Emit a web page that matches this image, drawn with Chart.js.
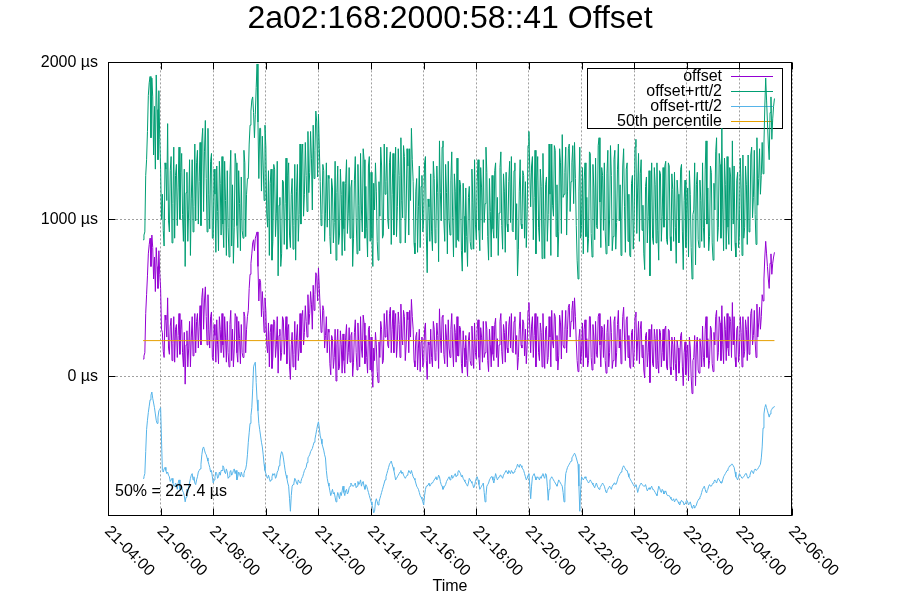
<!DOCTYPE html>
<html>
<head>
<meta charset="utf-8">
<script src="https://cdn.jsdelivr.net/npm/chart.js@4.4.0/dist/chart.umd.min.js"></script>
<style>
  html, body { margin: 0; padding: 0; background: #fff; }
</style>
</head>
<body>
<canvas id="myChart" width="900" height="600"></canvas>
<script>
const xTickLabels = [
  "21-04:00", "21-06:00", "21-08:00", "21-10:00", "21-12:00", "21-14:00", "21-16:00",
  "21-18:00", "21-20:00", "21-22:00", "22-00:00", "22-02:00", "22-04:00", "22-06:00",
];
const yTickValues = [0, 1000, 2000];

const startHour = 4 / 3; // first sample at 21-05:20 (hours after 21-04:00)
const stepHours = 1 / 30; // one sample every 2 minutes

// offset in µs, one row per hour
const offset = [
  110, 130, 150, 400, 520, 640, 780, 840, 880, 700, 900, 820, 620, 760, 540, 820, 700, 560, 800, 650, 560, 300, 280, 160, 120, 390, 360, 250, 500, 180,
  140, 320, 370, 100, 210, 380, 90, 300, 330, 120, 260, 400, 140, 300, 360, 150, 60, 280, -50, 200, 290, 60, 180, 350, 60, 250, 380, 130, 220, 400,
  150, 350, 400, 180, 320, 450, 200, 500, 560, 300, 480, 570, 380, 200, 520, 300, 180, 380, 410, 120, 100, 330, 260, 90, 360, 200, 80, 380, 300, 150,
  400, 200, 120, 380, 250, 90, 350, 150, 60, 330, 420, 100, 300, 60, 180, 400, 380, 150, 90, 350, 240, 80, 330, 150, 120, 410, 380, 150, 300, 380,
  420, 560, 650, 720, 780, 850, 870, 800, 880, 900, 920, 700, 480, 620, 600, 380, 540, 420, 280, 500, 420, 200, 150, 340, 60, 280, 330, 50, 120, 360,
  350, 120, 200, 380, 20, 260, 300, 100, 150, 380, 360, 140, 250, 380, 80, 300, 330, 60, -20, 200, 280, 60, 140, 350, 40, 250, 330, 100, 180, 400,
  150, 380, 420, 200, 280, 450, 350, 250, 520, 330, 400, 540, 460, 300, 580, 420, 520, 660, 640, 480, 690, 560, 430, 280, 300, 450, 420, 180, 260, 380,
  150, 300, 280, 80, 10, 260, 240, 50, 120, 300, -30, 200, 300, 40, 60, 290, 200, 20, 270, 100, 20, 250, 330, 80, 150, 310, 90, 260, 280, 0,
  90, 280, 360, 150, 40, 340, 200, 60, 380, 180, 120, 390, 340, 80, 260, 120, 20, 300, 320, 40, 250, 30, -70, 180, 100, 280, 200, 30, -40, 220,
  120, 350, 300, 80, 100, 400, 250, 300, 420, 200, 180, 400, 440, 150, 300, 420, 150, 330, 400, 120, 220, 410, 330, 120, 460, 250, 200, 420, 380, 100,
  200, 410, 360, 150, 420, 250, 490, 380, 300, 100, 60, 250, 280, 40, 180, 300, 30, 220, 250, 60, 90, 300, 340, 100, -20, 220, 200, 80, 300, 120,
  60, 350, 300, 100, 150, 340, 260, 50, 430, 250, 150, 380, 390, 140, 80, 330, 250, 60, 360, 180, 120, 300, 400, 180, 60, 330, 280, 90, 380, 130,
  130, 320, 300, 80, 20, 290, 180, 60, 260, 100, 0, 230, 280, 100, 70, 320, 210, 50, 340, 150, 110, 300, 360, 120, 40, 310, 250, 90, 350, 120,
  150, 350, 300, 100, 30, 300, 200, 60, 320, 140, 100, 330, 370, 120, 240, 60, 200, 350, 400, 160, 80, 330, 280, 90, 350, 180, 150, 320, 380, 180,
  400, 160, 150, 350, 380, 140, 260, 40, 120, 300, 410, 200, 180, 360, 340, 130, 300, 80, 200, 420, 470, 300, 150, 320, 380, 120, 260, 400, 60, 300,
  380, 150, 100, 340, 280, 60, 400, 180, 50, 300, 320, 80, 120, 380, 250, 60, 420, 220, 180, 400, 380, 100, 260, 40, 130, 390, 340, 110, 420, 200,
  180, 300, 420, 150, 300, 440, 460, 250, 350, 420, 480, 300, 500, 380, 220, 100, 30, 240, 300, 80, 160, 340, 60, 300, 360, 120, 240, 60, 100, 380,
  380, 120, 40, 330, 250, 80, 350, 140, 120, 380, 400, 200, 60, 320, 300, 120, 330, 100, 20, 280, 360, 60, 150, 380, 280, 50, 100, 350, 380, 60,
  150, 330, 420, 180, 300, 80, 200, 380, 440, 250, 100, 360, 380, 120, 260, 60, 50, 280, 300, 60, 150, 380, 410, 100, 230, 350, 80, 300, 350, 120,
  200, 40, -10, 260, 280, 60, 150, 300, -40, 200, 330, 80, 60, 300, 240, 50, 300, 100, 20, 300, 280, 60, 150, 300, 100, 300, 320, 60, 40, 300,
  290, 60, 10, 250, 200, 40, 250, 80, -30, 230, 180, 20, 100, 260, 280, 60, -60, 150, 220, 10, 120, 200, -30, 250, 180, 0, -110, 100, 120, 260,
  -60, 200, 250, 40, 20, 240, 180, 60, 320, 120, 60, 300, 380, 120, 240, 50, 100, 320, 300, 80, 30, 280, 200, 380, 420, 100, 150, 380, 340, 100,
  450, 200, 80, 380, 300, 100, 400, 180, 130, 380, 350, 120, 470, 200, 380, 120, 60, 300, 320, 90, 140, 380, 280, 60, 380, 120, 160, 360, 300, 100,
  380, 140, 160, 400, 430, 200, 260, 420, 220, 120, 460, 250, 340, 440, 300, 380, 520, 480, 620, 760, 860, 780, 700, 620, 560, 720, 780, 650, 720, 760, 790,
];

// offset-rtt/2 in µs, one row per hour
const offsetLow = [
  -650, -640, -620, -480, -340, -280, -230, -190, -150, -120, -100, -140, -170, -200, -240, -280, -300, -260, -220, -210, -200, -400, -600, -610, -590, -580, -600, -620, -610, -630,
  -640, -670, -660, -650, -680, -700, -700, -680, -690, -720, -680, -660, -720, -700, -700, -730, -740, -760, -800, -770, -720, -740, -700, -680, -650, -630, -620, -660, -640, -680,
  -690, -660, -640, -610, -600, -590, -560, -500, -460, -450, -470, -490, -500, -520, -540, -560, -580, -610, -600, -640, -680, -660, -640, -610, -620, -650, -640, -610, -630, -600,
  -600, -570, -580, -610, -620, -590, -610, -650, -640, -610, -600, -630, -620, -600, -590, -620, -600, -660, -640, -610, -620, -640, -610, -630, -640, -620, -600, -590, -560, -500,
  -420, -360, -300, -250, -200, -80, 60, 80, 90, -40, -150, -220, -300, -340, -380, -420, -450, -500, -560, -600, -620, -640, -650, -630, -650, -670, -660, -640, -620, -630,
  -620, -650, -640, -610, -600, -570, -540, -500, -480, -490, -520, -560, -600, -630, -650, -680, -700, -780, -860, -760, -700, -690, -680, -650, -660, -680, -690, -660, -670, -680,
  -670, -650, -640, -620, -600, -590, -580, -550, -520, -510, -500, -480, -470, -460, -440, -420, -400, -370, -340, -310, -290, -330, -380, -400, -430, -450, -470, -500, -520, -600,
  -650, -680, -700, -730, -760, -740, -720, -750, -740, -770, -800, -770, -740, -760, -780, -740, -760, -730, -700, -740, -760, -730, -720, -750, -740, -710, -700, -680, -690, -700,
  -700, -690, -680, -710, -700, -670, -690, -680, -660, -700, -680, -670, -700, -720, -690, -700, -720, -740, -760, -780, -800, -820, -840, -870, -860, -800, -780, -800, -820, -800,
  -780, -760, -740, -720, -700, -680, -660, -640, -620, -600, -580, -560, -550, -540, -560, -580, -600, -630, -660, -650, -640, -630, -620, -610, -600, -620, -610, -630, -640, -650,
  -640, -630, -620, -600, -610, -620, -600, -620, -640, -650, -660, -680, -700, -710, -720, -740, -760, -770, -780, -800, -820, -760, -720, -700, -700, -690, -680, -700, -690, -680,
  -680, -670, -660, -650, -640, -660, -650, -630, -640, -670, -690, -700, -720, -710, -700, -690, -670, -660, -650, -640, -660, -650, -630, -650, -640, -630, -620, -640, -630, -610,
  -600, -610, -620, -640, -630, -650, -660, -670, -680, -690, -700, -680, -650, -660, -670, -680, -690, -710, -700, -670, -650, -640, -660, -690, -720, -710, -700, -690, -680, -740,
  -800, -760, -700, -690, -680, -660, -650, -640, -640, -660, -680, -650, -620, -640, -660, -650, -640, -630, -630, -640, -650, -630, -620, -610, -600, -610, -620, -600, -610, -620,
  -600, -610, -620, -610, -600, -590, -580, -560, -570, -580, -560, -570, -580, -590, -600, -620, -640, -660, -650, -630, -620, -700, -780, -700, -640, -630, -620, -640, -660, -650,
  -640, -650, -660, -640, -650, -630, -620, -640, -650, -620, -630, -700, -790, -720, -660, -650, -640, -650, -660, -670, -680, -690, -700, -680, -660, -670, -680, -690, -700, -740,
  -800, -700, -620, -600, -580, -570, -560, -550, -540, -520, -510, -500, -490, -500, -520, -540, -560, -700, -860, -720, -640, -650, -660, -650, -640, -650, -660, -670, -680, -670,
  -660, -670, -680, -690, -700, -710, -690, -680, -700, -710, -720, -710, -700, -690, -680, -690, -700, -720, -740, -730, -720, -710, -700, -710, -720, -700, -690, -680, -680, -690,
  -680, -660, -640, -630, -620, -610, -600, -580, -570, -580, -590, -600, -600, -620, -640, -650, -660, -670, -680, -690, -700, -700, -690, -710, -740, -720, -700, -690, -680, -690,
  -690, -700, -700, -690, -710, -730, -720, -710, -720, -710, -700, -720, -720, -730, -740, -750, -760, -730, -700, -710, -730, -740, -720, -730, -750, -740, -730, -750, -760, -760,
  -760, -770, -780, -790, -790, -780, -800, -790, -780, -790, -800, -810, -820, -800, -790, -800, -800, -820, -810, -800, -790, -800, -820, -810, -800, -820, -840, -830, -820, -840,
  -830, -820, -800, -790, -780, -770, -760, -740, -720, -710, -700, -720, -740, -730, -720, -700, -690, -700, -700, -690, -680, -670, -660, -670, -680, -660, -650, -660, -670, -680,
  -680, -660, -640, -630, -620, -610, -600, -590, -580, -570, -570, -560, -560, -570, -580, -610, -640, -650, -660, -640, -620, -630, -640, -650, -650, -640, -630, -620, -620, -640,
  -650, -640, -630, -610, -600, -610, -620, -600, -590, -600, -600, -590, -580, -570, -560, -520, -450, -330, -240, -200, -180, -200, -220, -240, -260, -240, -220, -210, -200, -200, -190,
];

const medianOffset = 227.4;

const hours = offset.map((_, i) => startHour + i * stepHours);
const offsetHigh = offset.map((v, i) => v + (v - offsetLow[i])); // offset + rtt/2
const toPoints = (arr) => arr.map((v, i) => ({ x: hours[i], y: v }));

const FONT = "'Liberation Sans', Arial, sans-serif";

const gnuplotLook = {
  id: "gnuplotLook",
  beforeDatasetsDraw(chart) {
    const ctx = chart.ctx;
    ctx.save();
    ctx.strokeStyle = "#000";
    ctx.lineWidth = 1;
    ctx.strokeRect(587.5, 68.5, 195, 60);
    ctx.font = "16px " + FONT;
    ctx.textAlign = "right";
    ctx.textBaseline = "middle";
    chart.data.datasets.forEach((ds, i) => {
      const y = 76.5 + i * 15;
      ctx.fillStyle = "#000";
      ctx.fillText(ds.label, 722, y);
      ctx.strokeStyle = ds.borderColor;
      ctx.beginPath();
      ctx.moveTo(731, y);
      ctx.lineTo(773, y);
      ctx.stroke();
    });
    ctx.restore();
  },
  afterDraw(chart) {
    const { ctx, chartArea: a, scales } = chart;
    const left = Math.round(a.left) + 0.5;
    const right = Math.round(a.right) - 0.5;
    const top = Math.round(a.top) + 0.5;
    const bottom = Math.round(a.bottom) - 0.5;
    ctx.save();
    ctx.strokeStyle = "#000";
    ctx.lineWidth = 1;
    ctx.strokeRect(left, top, right - left, bottom - top);

    // inward tics, mirrored
    ctx.beginPath();
    scales.y.ticks.forEach((t) => {
      const y = Math.round(scales.y.getPixelForValue(t.value)) + 0.5;
      ctx.moveTo(left, y);
      ctx.lineTo(left + 7, y);
      ctx.moveTo(right, y);
      ctx.lineTo(right - 7, y);
    });
    scales.x.ticks.forEach((t) => {
      const x = Math.round(scales.x.getPixelForValue(t.value)) + 0.5;
      ctx.moveTo(x, bottom);
      ctx.lineTo(x, bottom - 7);
      ctx.moveTo(x, top);
      ctx.lineTo(x, top + 7);
    });
    ctx.stroke();

    // rotated time labels
    ctx.fillStyle = "#000";
    ctx.font = "16px " + FONT;
    ctx.textAlign = "left";
    ctx.textBaseline = "middle";
    scales.x.ticks.forEach((t, i) => {
      const x = scales.x.getPixelForValue(t.value);
      ctx.save();
      ctx.translate(x - 1, a.bottom + 13);
      ctx.rotate(Math.PI / 4);
      ctx.fillText(xTickLabels[i], 0, 0);
      ctx.restore();
    });

    ctx.fillText("50% = " + medianOffset + " µs", a.left + 7, 492);
    ctx.restore();
  },
};

const lineStyle = { borderWidth: 1, pointRadius: 0, fill: false, tension: 0 };

new Chart("myChart", {
  type: "line",
  data: {
    datasets: [
      { ...lineStyle, label: "offset", data: toPoints(offset), borderColor: "#9400d3", order: 4 },
      { ...lineStyle, label: "offset+rtt/2", data: toPoints(offsetHigh), borderColor: "#009e73", order: 3 },
      { ...lineStyle, label: "offset-rtt/2", data: toPoints(offsetLow), borderColor: "#56b4e9", order: 2 },
      {
        ...lineStyle,
        label: "50th percentile",
        data: [
          { x: hours[0], y: medianOffset },
          { x: hours[hours.length - 1], y: medianOffset },
        ],
        borderColor: "#e69f00",
        order: 1,
      },
    ],
  },
  options: {
    responsive: false,
    animation: false,
    devicePixelRatio: 1,
    layout: { padding: { left: 0, right: 0, top: 0, bottom: 4 } },
    plugins: {
      legend: { display: false },
      tooltip: { enabled: false },
      title: {
        display: true,
        text: "2a02:168:2000:58::41 Offset",
        color: "#000",
        font: { family: FONT, size: 32, weight: "normal" },
        padding: { top: 0, bottom: 24 },
      },
    },
    scales: {
      x: {
        type: "linear",
        min: 0,
        max: 26,
        afterBuildTicks: (scale) => {
          scale.ticks = xTickLabels.map((_, i) => ({ value: i * 2 }));
        },
        afterFit: (scale) => {
          scale.height = 80;
        },
        ticks: { display: false },
        grid: { color: "#a0a0a0", lineWidth: 1, drawTicks: false },
        border: { display: false, dash: [2, 2] },
        title: {
          display: true,
          text: "Time",
          color: "#000",
          font: { family: FONT, size: 16 },
          padding: 0,
        },
      },
      y: {
        min: -890,
        max: 2000,
        afterBuildTicks: (scale) => {
          scale.ticks = yTickValues.map((v) => ({ value: v }));
        },
        afterFit: (scale) => {
          scale.width = 108;
        },
        ticks: {
          color: "#000",
          font: { family: FONT, size: 16 },
          padding: 10,
          callback: (v) => v + " µs",
        },
        grid: { color: "#a0a0a0", lineWidth: 1, drawTicks: false },
        border: { display: false, dash: [2, 2] },
      },
      yRight: {
        position: "right",
        grid: { display: false },
        ticks: { display: false },
        border: { display: false },
        afterFit: (scale) => {
          scale.width = 108;
        },
      },
    },
  },
  plugins: [gnuplotLook],
});
</script>
</body>
</html>
